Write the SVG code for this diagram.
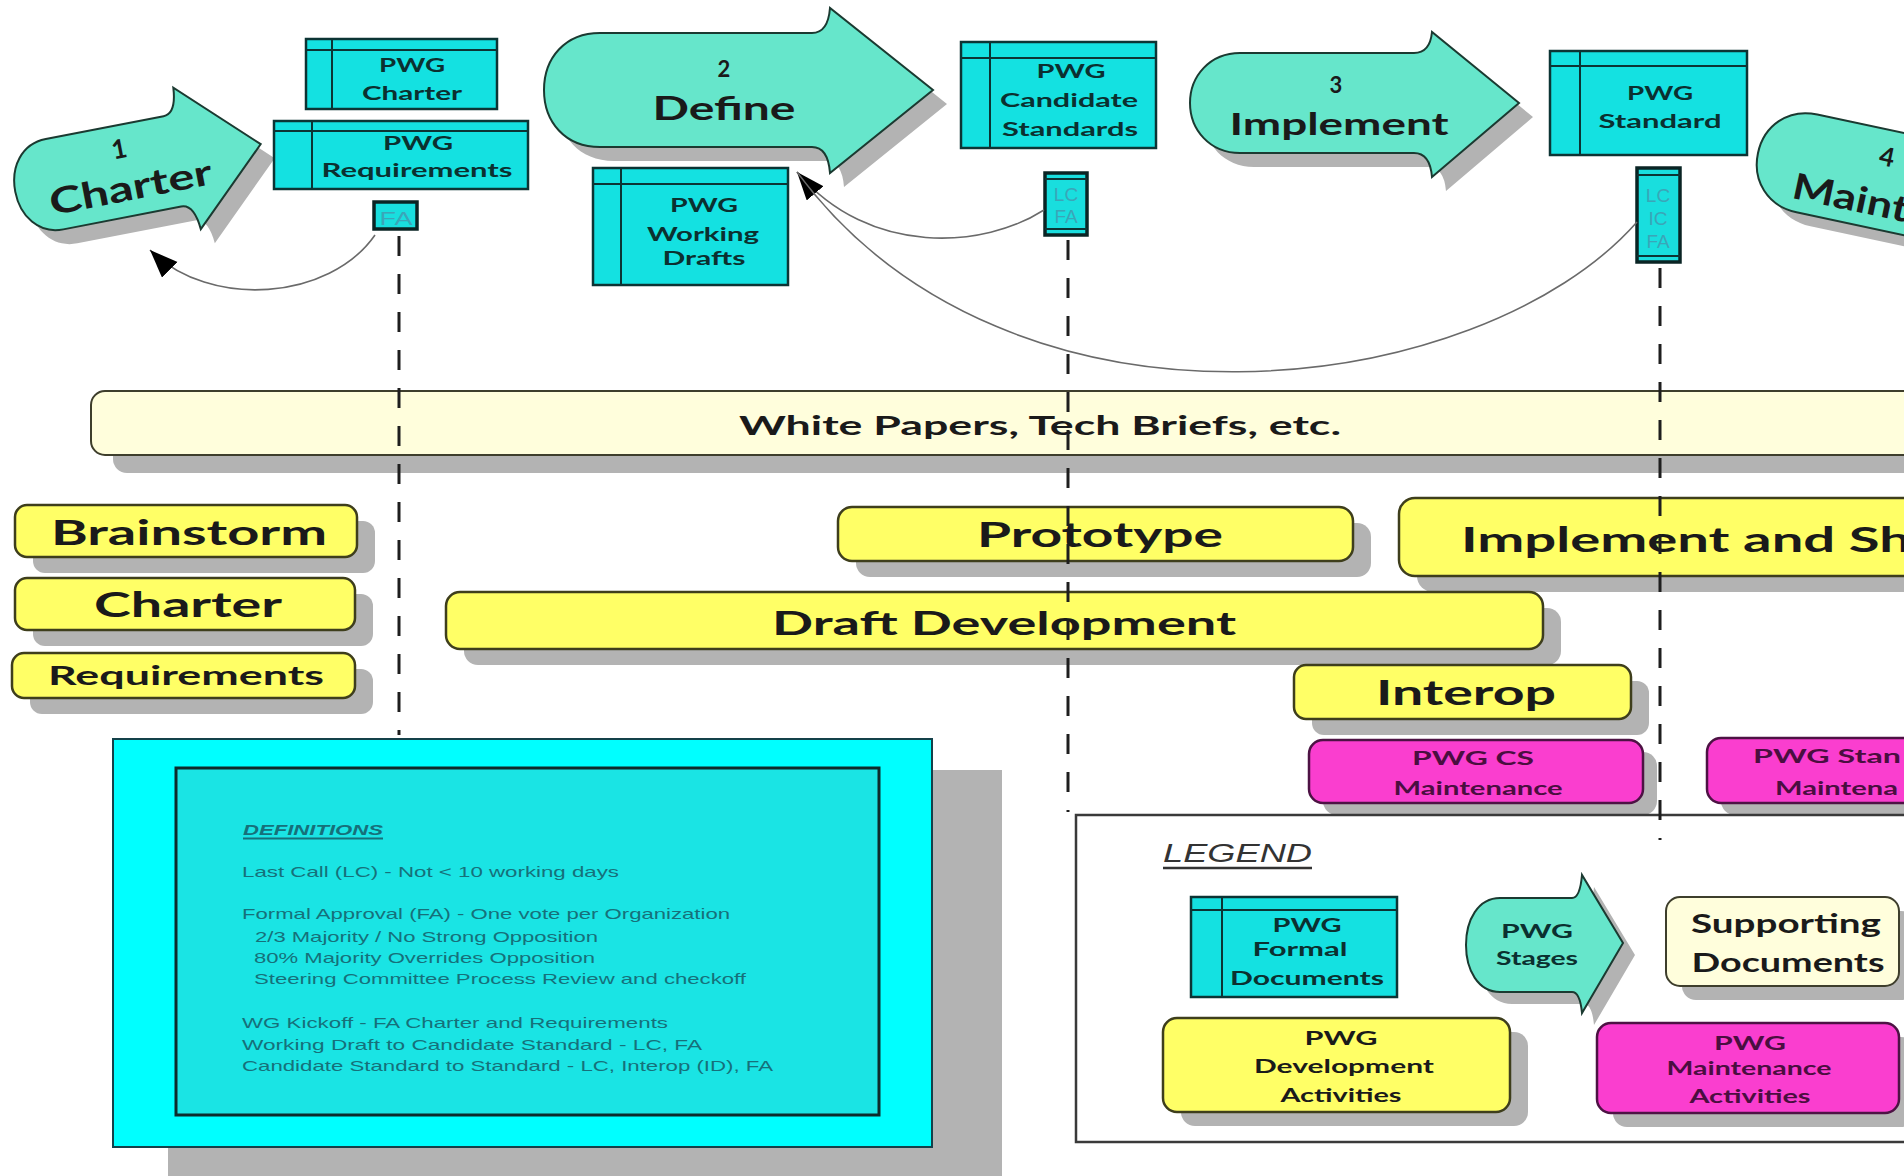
<svg xmlns="http://www.w3.org/2000/svg" width="1904" height="1176" viewBox="0 0 1904 1176">
<defs>
<style>
.sh{fill:#b3b3b3}
.stage{fill:#66e6cb;stroke:#1b3a31;stroke-width:2}
.doc{fill:#14e1e1;stroke:#0c3434;stroke-width:2.5}
.dl{stroke:#0c3434;stroke-width:2;fill:none}
.sb{fill:#19dede;stroke:#0a2424;stroke-width:3.5}
.act{fill:#ffff66;stroke:#3e3e1c;stroke-width:2.5}
.mnt{fill:#fa3ecf;stroke:#4d1244;stroke-width:2.5}
.sup{fill:#fffedc;stroke:#3e3e2c;stroke-width:2}
.conn{fill:none;stroke:#6a6a6a;stroke-width:1.6}
.dash{stroke:#1e1e1e;stroke-width:3;stroke-dasharray:20 18;fill:none}
.b{font-family:Lato,"Open Sans","Liberation Sans",sans-serif;font-weight:700;fill:#1a1a1a;text-anchor:middle}
.d{font-family:Lato,"Open Sans","Liberation Sans",sans-serif;font-weight:700;fill:#0b3030;text-anchor:middle;font-size:19px}
.m{font-family:Lato,"Open Sans","Liberation Sans",sans-serif;font-weight:700;fill:#4a0e40;font-size:18px}
.t{font-family:"Liberation Sans",Arial,sans-serif;font-size:15px;fill:#16707a}
.s{font-family:"Liberation Sans",Arial,sans-serif;font-size:19px;fill:#3aa6b8;text-anchor:middle}
</style>
<marker id="ah" markerUnits="userSpaceOnUse" markerWidth="30" markerHeight="24" refX="28" refY="11" orient="auto"><path d="M0,0 L28,11 L0,22 z" fill="#000"/></marker>
<path id="p1" d="M -85,-46 L 35,-46 Q 48,-46 50,-72 L 125,0 L 50,72 Q 48,46 35,46 L -85,46 C -110,46 -125,25 -125,0 C -125,-25 -110,-46 -85,-46 Z"/>
<path id="p2" d="M 600,33 L 812,33 Q 828,33 830,8 L 933,90 L 830,173 Q 828,147 812,147 L 600,147 C 565,147 544,122 544,90 C 544,58 565,33 600,33 Z"/>
<path id="p3" d="M 1240,53 L 1414,53 Q 1430,53 1432,32 L 1519,103 L 1432,177 Q 1430,153 1414,153 L 1240,153 C 1210,153 1190,130 1190,103 C 1190,76 1210,53 1240,53 Z"/>
<path id="p4" d="M 50,-50 L 330,-50 L 330,50 L 50,50 C 20,50 0,28 0,0 C 0,-28 20,-50 50,-50 Z"/>
<path id="p5" d="M 1500,898 L 1572,898 Q 1580,898 1582,875 L 1623,943 L 1582,1013 Q 1580,992 1572,992 L 1500,992 C 1478,992 1466,970 1466,945 C 1466,920 1478,898 1500,898 Z"/>
</defs>
<rect x="0" y="0" width="1904" height="1176" fill="#ffffff"/>

<!-- Stages -->
<g id="stage1">
<use href="#p1" class="sh" transform="translate(152,182) rotate(-11)"/>
<g transform="translate(138,168) rotate(-11)">
<use href="#p1" class="stage"/>
<text class="b" x="-15" y="-13" font-size="26">1</text>
<text class="b" x="-11" y="30" font-size="36" textLength="165" lengthAdjust="spacingAndGlyphs">Charter</text>
</g>
</g>
<g id="stage2">
<use href="#p2" class="sh" transform="translate(14,14)"/>
<use href="#p2" class="stage"/>
<text class="b" x="724" y="77" font-size="22">2</text>
<text class="b" x="724" y="120" font-size="32" textLength="143" lengthAdjust="spacingAndGlyphs">Define</text>
</g>
<g id="stage3">
<use href="#p3" class="sh" transform="translate(14,14)"/>
<use href="#p3" class="stage"/>
<text class="b" x="1336" y="93" font-size="22">3</text>
<text class="b" x="1339" y="135" font-size="30" textLength="219" lengthAdjust="spacingAndGlyphs">Implement</text>
</g>
<g id="stage4">
<use href="#p4" class="sh" transform="translate(1772,167) rotate(12)"/>
<g transform="translate(1758,153) rotate(12)">
<use href="#p4" class="stage"/>
<text class="b" x="127" y="-14" font-size="26">4</text>
<text class="b" x="41" y="37" font-size="36" style="text-anchor:start" textLength="118" lengthAdjust="spacingAndGlyphs">Maint</text>
</g>
</g>

<!-- Formal documents -->
<g id="docCharter">
<rect class="doc" x="306" y="39" width="191" height="70"/>
<path class="dl" d="M306,50 H497 M332,39 V109"/>
<text class="d" x="412" y="72" textLength="66" lengthAdjust="spacingAndGlyphs">PWG</text>
<text class="d" x="412" y="100" textLength="100" lengthAdjust="spacingAndGlyphs">Charter</text>
</g>
<g id="docRequirements">
<rect class="doc" x="274" y="121" width="254" height="68"/>
<path class="dl" d="M274,131 H528 M312,121 V189"/>
<text class="d" x="418" y="150" textLength="70" lengthAdjust="spacingAndGlyphs">PWG</text>
<text class="d" x="417" y="177" textLength="191" lengthAdjust="spacingAndGlyphs">Requirements</text>
</g>
<g id="docWorking">
<rect class="doc" x="593" y="168" width="195" height="117"/>
<path class="dl" d="M593,184 H788 M621,168 V285"/>
<text class="d" x="704" y="212" textLength="68" lengthAdjust="spacingAndGlyphs">PWG</text>
<text class="d" x="703" y="241" textLength="112" lengthAdjust="spacingAndGlyphs">Working</text>
<text class="d" x="704" y="265" textLength="83" lengthAdjust="spacingAndGlyphs">Drafts</text>
</g>
<g id="docCandidate">
<rect class="doc" x="961" y="42" width="195" height="106"/>
<path class="dl" d="M961,58 H1156 M990,42 V148"/>
<text class="d" x="1071" y="78" textLength="69" lengthAdjust="spacingAndGlyphs">PWG</text>
<text class="d" x="1069" y="107" textLength="138" lengthAdjust="spacingAndGlyphs">Candidate</text>
<text class="d" x="1070" y="136" textLength="136" lengthAdjust="spacingAndGlyphs">Standards</text>
</g>
<g id="docStandard">
<rect class="doc" x="1550" y="51" width="197" height="104"/>
<path class="dl" d="M1550,66 H1747 M1580,51 V155"/>
<text class="d" x="1660" y="100" textLength="66" lengthAdjust="spacingAndGlyphs">PWG</text>
<text class="d" x="1660" y="128" textLength="123" lengthAdjust="spacingAndGlyphs">Standard</text>
</g>

<!-- Approval tags -->
<g id="tagFA">
<rect class="sb" x="374" y="202" width="43" height="27"/>
<text class="s" x="396" y="225" textLength="33" lengthAdjust="spacingAndGlyphs">FA</text>
</g>
<g id="tagLCFA">
<rect class="sb" x="1045" y="173" width="42" height="62"/>
<path class="dl" d="M1045,179 H1087 M1045,229 H1087"/>
<text class="s" x="1066" y="201">LC</text>
<text class="s" x="1066" y="223">FA</text>
</g>
<g id="tagLCICFA">
<rect class="sb" x="1637" y="168" width="43" height="94"/>
<path class="dl" d="M1637,175 H1680 M1637,256 H1680"/>
<text class="s" x="1658" y="202">LC</text>
<text class="s" x="1658" y="225">IC</text>
<text class="s" x="1658" y="248">FA</text>
</g>

<!-- Supporting documents bar -->
<g id="whitePapers">
<rect class="sh" x="113" y="409" width="1830" height="64" rx="14"/>
<rect class="sup" x="91" y="391" width="1840" height="64" rx="14"/>
<text class="b" x="1040" y="435" font-size="26" fill="#222" textLength="602" lengthAdjust="spacingAndGlyphs">White Papers, Tech Briefs, etc.</text>
</g>

<!-- Development activities -->
<g id="brainstorm">
<rect class="sh" x="33" y="521" width="342" height="52" rx="12"/>
<rect class="act" x="15" y="505" width="342" height="52" rx="12"/>
<text class="b" x="189" y="545" font-size="35" textLength="276" lengthAdjust="spacingAndGlyphs">Brainstorm</text>
</g>
<g id="charterAct">
<rect class="sh" x="33" y="594" width="340" height="52" rx="12"/>
<rect class="act" x="15" y="578" width="340" height="52" rx="12"/>
<text class="b" x="188" y="617" font-size="34" textLength="188" lengthAdjust="spacingAndGlyphs">Charter</text>
</g>
<g id="requirementsAct">
<rect class="sh" x="30" y="669" width="343" height="45" rx="12"/>
<rect class="act" x="12" y="653" width="343" height="45" rx="12"/>
<text class="b" x="186" y="685" font-size="26" textLength="276" lengthAdjust="spacingAndGlyphs">Requirements</text>
</g>
<g id="prototype">
<rect class="sh" x="856" y="523" width="515" height="54" rx="14"/>
<rect class="act" x="838" y="507" width="515" height="54" rx="14"/>
<text class="b" x="1100" y="547" font-size="35" textLength="246" lengthAdjust="spacingAndGlyphs">Prototype</text>
</g>
<g id="implementShare">
<rect class="sh" x="1417" y="514" width="520" height="78" rx="16"/>
<rect class="act" x="1399" y="498" width="530" height="78" rx="16"/>
<text class="b" x="1461" y="552" font-size="35" style="text-anchor:start" textLength="450" lengthAdjust="spacingAndGlyphs">Implement and Sh</text>
</g>
<g id="draftDev">
<rect class="sh" x="464" y="608" width="1097" height="57" rx="14"/>
<rect class="act" x="446" y="592" width="1097" height="57" rx="14"/>
<text class="b" x="1004" y="635" font-size="33" textLength="464" lengthAdjust="spacingAndGlyphs">Draft Development</text>
</g>
<g id="interop">
<rect class="sh" x="1312" y="681" width="337" height="54" rx="12"/>
<rect class="act" x="1294" y="665" width="337" height="54" rx="12"/>
<text class="b" x="1466" y="705" font-size="35" textLength="180" lengthAdjust="spacingAndGlyphs">Interop</text>
</g>

<!-- Maintenance activities -->
<g id="csMaint">
<rect class="sh" x="1323" y="752" width="334" height="63" rx="14"/>
<rect class="mnt" x="1309" y="740" width="334" height="63" rx="14"/>
<text class="m" x="1473" y="765" text-anchor="middle" textLength="122" lengthAdjust="spacingAndGlyphs">PWG CS</text>
<text class="m" x="1478" y="795" text-anchor="middle" textLength="169" lengthAdjust="spacingAndGlyphs">Maintenance</text>
</g>
<g id="stdMaint">
<rect class="sh" x="1721" y="750" width="220" height="65" rx="14"/>
<rect class="mnt" x="1707" y="738" width="220" height="65" rx="14"/>
<text class="m" x="1753" y="763" textLength="148" lengthAdjust="spacingAndGlyphs">PWG Stan</text>
<text class="m" x="1775" y="795" textLength="123" lengthAdjust="spacingAndGlyphs">Maintena</text>
</g>

<!-- Definitions -->
<g id="definitions">
<rect class="sh" x="168" y="770" width="834" height="420"/>
<rect x="113" y="739" width="819" height="408" fill="#00ffff" stroke="#14414a" stroke-width="2"/>
<rect x="176" y="768" width="703" height="347" fill="#1ae4e4" stroke="#0d2b2b" stroke-width="3"/>
<text class="t" x="243" y="835" font-size="17" font-weight="700" font-style="italic" textLength="140" lengthAdjust="spacingAndGlyphs">DEFINITIONS</text>
<line x1="243" y1="838.5" x2="383" y2="838.5" stroke="#16707a" stroke-width="1.8"/>
<text class="t" x="242" y="877" textLength="377" lengthAdjust="spacingAndGlyphs">Last Call (LC) - Not &lt; 10 working days</text>
<text class="t" x="242" y="919" textLength="488" lengthAdjust="spacingAndGlyphs">Formal Approval (FA) - One vote per Organization</text>
<text class="t" x="255" y="942" textLength="343" lengthAdjust="spacingAndGlyphs">2/3 Majority / No Strong Opposition</text>
<text class="t" x="254" y="963" textLength="341" lengthAdjust="spacingAndGlyphs">80% Majority Overrides Opposition</text>
<text class="t" x="254" y="984" textLength="492" lengthAdjust="spacingAndGlyphs">Steering Committee Process Review and checkoff</text>
<text class="t" x="242" y="1028" textLength="426" lengthAdjust="spacingAndGlyphs">WG Kickoff - FA Charter and Requirements</text>
<text class="t" x="242" y="1050" textLength="460" lengthAdjust="spacingAndGlyphs">Working Draft to Candidate Standard -  LC, FA</text>
<text class="t" x="242" y="1071" textLength="531" lengthAdjust="spacingAndGlyphs">Candidate Standard to Standard - LC, Interop (ID), FA</text>
</g>

<!-- Legend -->
<g id="legend">
<rect x="1076" y="815" width="900" height="327" fill="#ffffff" stroke="#3a3a3a" stroke-width="2.5"/>
<text x="1163" y="862" font-family="'Liberation Sans',Arial,sans-serif" font-size="25" font-style="italic" fill="#333" textLength="149" lengthAdjust="spacingAndGlyphs">LEGEND</text>
<line x1="1163" y1="868" x2="1312" y2="868" stroke="#333" stroke-width="2.5"/>
</g>
<g id="legendFormal">
<rect class="doc" x="1191" y="897" width="206" height="100"/>
<path class="dl" d="M1191,910 H1397 M1222,897 V997"/>
<text class="d" x="1307" y="932" textLength="69" lengthAdjust="spacingAndGlyphs">PWG</text>
<text class="d" x="1300" y="956" textLength="95" lengthAdjust="spacingAndGlyphs">Formal</text>
<text class="d" x="1307" y="985" textLength="154" lengthAdjust="spacingAndGlyphs">Documents</text>
</g>
<g id="legendStages">
<use href="#p5" class="sh" transform="translate(12,12)"/>
<use href="#p5" class="stage"/>
<text class="d" x="1537" y="938" fill="#1a1a1a" textLength="72" lengthAdjust="spacingAndGlyphs">PWG</text>
<text class="d" x="1537" y="965" fill="#1a1a1a" textLength="82" lengthAdjust="spacingAndGlyphs">Stages</text>
</g>
<g id="legendSupporting">
<rect class="sh" x="1682" y="911" width="233" height="89" rx="14"/>
<rect class="sup" x="1666" y="897" width="233" height="89" rx="14"/>
<text class="b" x="1786" y="933" font-size="26" textLength="190" lengthAdjust="spacingAndGlyphs">Supporting</text>
<text class="b" x="1788" y="972" font-size="26" textLength="193" lengthAdjust="spacingAndGlyphs">Documents</text>
</g>
<g id="legendDev">
<rect class="sh" x="1181" y="1032" width="347" height="94" rx="14"/>
<rect class="act" x="1163" y="1018" width="347" height="94" rx="14"/>
<text class="b" x="1341" y="1045" font-size="19" textLength="73" lengthAdjust="spacingAndGlyphs">PWG</text>
<text class="b" x="1344" y="1073" font-size="19" textLength="180" lengthAdjust="spacingAndGlyphs">Development</text>
<text class="b" x="1341" y="1102" font-size="19" textLength="121" lengthAdjust="spacingAndGlyphs">Activities</text>
</g>
<g id="legendMaint">
<rect class="sh" x="1613" y="1037" width="302" height="90" rx="14"/>
<rect class="mnt" x="1597" y="1023" width="302" height="90" rx="14"/>
<text class="m" x="1750" y="1050" font-size="19" text-anchor="middle" textLength="72" lengthAdjust="spacingAndGlyphs">PWG</text>
<text class="m" x="1749" y="1075" font-size="19" text-anchor="middle" textLength="165" lengthAdjust="spacingAndGlyphs">Maintenance</text>
<text class="m" x="1750" y="1103" font-size="19" text-anchor="middle" textLength="121" lengthAdjust="spacingAndGlyphs">Activities</text>
</g>

<!-- Connectors -->
<g id="connectors">
<path class="conn" d="M375,235 C330,300 210,310 150,250" marker-end="url(#ah)"/>
<path class="conn" d="M1044,210 C985,248 870,258 797,172" marker-end="url(#ah)"/>
<path class="conn" d="M1637,222 C1480,400 1010,460 797,172"/>
<line class="dash" x1="399" y1="236" x2="399" y2="735"/>
<line class="dash" x1="1068" y1="240" x2="1068" y2="812"/>
<line class="dash" x1="1660" y1="268" x2="1660" y2="840"/>
</g>
</svg>
